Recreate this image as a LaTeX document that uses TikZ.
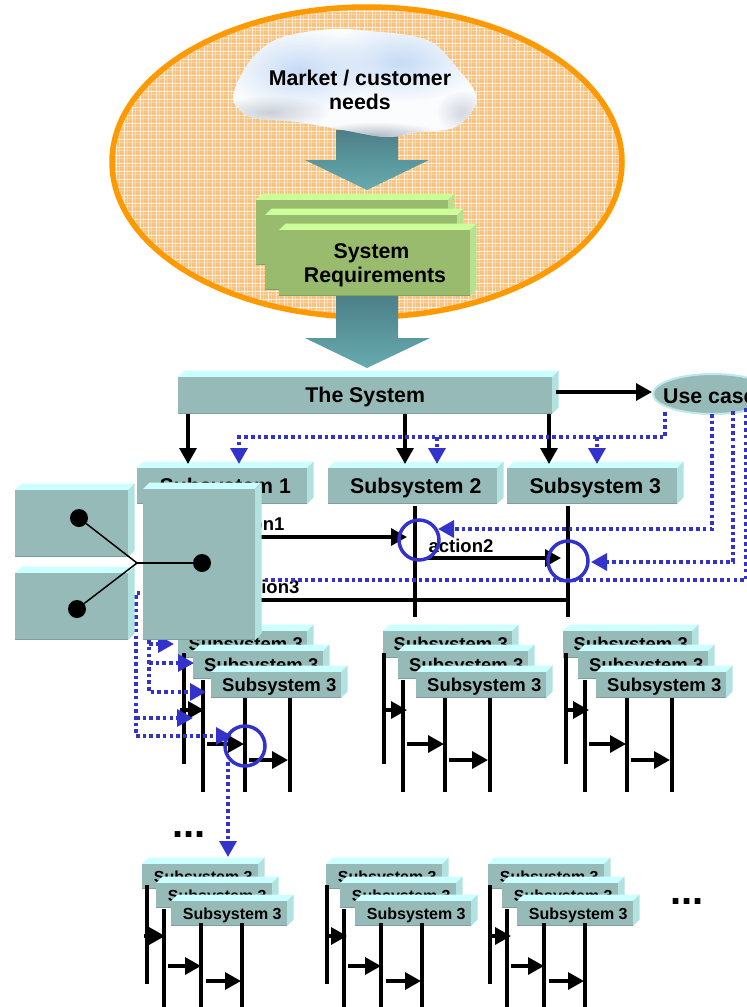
\documentclass[tikz,border=0pt]{standalone}
\usepackage{fontspec}
\setmainfont{Liberation Sans}
\usetikzlibrary{arrows.meta,shapes.geometric,fadings}
\definecolor{tfront}{HTML}{96BAB8}
\definecolor{ttop}{HTML}{CCFFFF}
\definecolor{tside}{HTML}{B2E2E0}
\definecolor{tedge}{HTML}{7E9F9E}
\definecolor{gfront}{HTML}{99BB6E}
\definecolor{gtop}{HTML}{CCFF99}
\definecolor{gside}{HTML}{B9E08F}
\definecolor{gedge}{HTML}{84A05E}
\definecolor{plaidbase}{HTML}{FBC27C}
\definecolor{ringorange}{HTML}{FF9900}
\definecolor{flowblue}{HTML}{3333CC}
\definecolor{fatdark}{HTML}{4D7F88}
\definecolor{fatlight}{HTML}{66ABAF}
\definecolor{cloudblue}{HTML}{C6DBF6}
\definecolor{cloudgrey}{HTML}{9AA3B2}
\tikzfading[name=softblob,inner color=transparent!0,outer color=transparent!100]
\tikzset{
  frontface/.style={inner sep=0pt,outer sep=0pt},
  life/.style={line width=3.3pt,black},
  call/.style={line width=3.3pt,black,-{Triangle[length=16pt,width=17pt]}},
  flow/.style={line width=3.5pt,flowblue,dash pattern=on 3.6pt off 3.1pt},
  flowtip/.style={flow,-{Triangle[length=16pt,width=17pt]}},
  ring/.style={draw=flowblue,line width=3.5pt,circle,minimum size=40pt,inner sep=0pt},
  dotnode/.style={fill=black,circle,minimum size=18pt,inner sep=0pt},
  spoke/.style={line width=1.5pt,black},
  actionlabel/.style={font=\fontsize{18.5}{20}\selectfont\bfseries,inner sep=0pt},
  fatarrow/.style={top color=fatdark,bottom color=fatlight,draw=none},
}
% [palette]{name}{x0}{y0}{x1}{y1}{font size}{text}
\newcommand\bevelbox[8][t]{%
  \fill[#1top] (#3,#4) -- ({#3+6.5},{#4-6.5}) -- ({#5+6.5},{#4-6.5}) -- (#5,#4) -- cycle;
  \fill[#1side] (#5,#4) -- ({#5+6.5},{#4-6.5}) -- ({#5+6.5},{#6-6.5}) -- (#5,#6) -- cycle;
  \node[frontface,fill=#1front,minimum width={((#5)-(#3))*1pt},minimum height={((#6)-(#4))*1pt}]
    (#2) at ({((#3)+(#5))/2},{((#4)+(#6))/2}) {};
  \draw[#1edge,line width=1.5pt] ([yshift=.75pt]#2.south west) -- ([yshift=.75pt]#2.south east);
  \node[inner sep=0pt,align=center,font={\fontsize{#7}{23.5}\selectfont\bfseries}]
    (#2-text) at ({((#3)+(#5))/2+3.25},{((#4)+(#6))/2+1.5}) {#8};
}
% {prefix}{box dx}{line dx}{arrow 1 start}{arrow 1 tip}
\newcommand\uppergroup[5]{%
  \pgfmathsetmacro\bx{#2}\pgfmathsetmacro\lx{#3}
  \bevelbox{#1a}{178+\bx}{631}{307+\bx}{658}{18.5}{Subsystem 3}
  \coordinate (#1p1) at (184+\lx,653); \coordinate (#1q1) at (184+\lx,764);
  \draw[life] (#1p1) -- (#1q1);
  \bevelbox{#1b}{193+\bx}{651}{323+\bx}{679}{18.5}{Subsystem 3}
  \coordinate (#1p2) at (203+\lx,680); \coordinate (#1q2) at (203+\lx,792);
  \draw[life] (#1p2) -- (#1q2);
  \bevelbox{#1c}{211+\bx}{672}{341+\bx}{698}{18.5}{Subsystem 3}
  \coordinate (#1p3) at (245+\lx,698); \coordinate (#1q3) at (245+\lx,792);
  \coordinate (#1p4) at (290+\lx,698); \coordinate (#1q4) at (290+\lx,792);
  \draw[life] (#1p3) -- (#1q3);
  \draw[life] (#1p4) -- (#1q4);
  \coordinate (#1s1) at (#4,710); \coordinate (#1t1) at (#5,710);
  \coordinate (#1s2) at (207+\lx,744); \coordinate (#1t2) at (244+\lx,744);
  \coordinate (#1s3) at (249+\lx,760); \coordinate (#1t3) at (288+\lx,760);
  \draw[call] (#1s1) -- (#1t1);
  \draw[call] (#1s2) -- (#1t2);
  \draw[call] (#1s3) -- (#1t3);
}
\newcommand\lowergroup[5]{%
  \pgfmathsetmacro\bx{#2}\pgfmathsetmacro\lx{#3}
  \bevelbox{#1a}{142+\bx}{864}{258+\bx}{889}{16}{Subsystem 3}
  \coordinate (#1p1) at (147+\lx,885); \coordinate (#1q1) at (147+\lx,984);
  \draw[life] (#1p1) -- (#1q1);
  \bevelbox{#1b}{156+\bx}{883}{272+\bx}{908}{16}{Subsystem 3}
  \coordinate (#1p2) at (164+\lx,909); \coordinate (#1q2) at (164+\lx,1007);
  \draw[life] (#1p2) -- (#1q2);
  \bevelbox{#1c}{171+\bx}{901}{287+\bx}{926}{16}{Subsystem 3}
  \coordinate (#1p3) at (201+\lx,923); \coordinate (#1q3) at (201+\lx,1007);
  \coordinate (#1p4) at (242+\lx,923); \coordinate (#1q4) at (242+\lx,1007);
  \draw[life] (#1p3) -- (#1q3);
  \draw[life] (#1p4) -- (#1q4);
  \coordinate (#1s1) at (#4,936); \coordinate (#1t1) at (#5,936);
  \coordinate (#1s2) at (168+\lx,966); \coordinate (#1t2) at (201+\lx,966);
  \coordinate (#1s3) at (206+\lx,981); \coordinate (#1t3) at (241+\lx,981);
  \draw[call] (#1s1) -- (#1t1);
  \draw[call] (#1s2) -- (#1t2);
  \draw[call] (#1s3) -- (#1t3);
}
\begin{document}
\begin{tikzpicture}[x=1pt,y=-1pt]
\useasboundingbox (0,0) rectangle (747,1007);
% plaid ellipse
\begin{scope}
  \clip (367,162) ellipse [x radius=255,y radius=155];
  \fill[plaidbase] (105,0) rectangle (630,325);
  \foreach \k in {0,...,66}{
    \draw[white,line width=1pt,opacity=.75] ({108+8*\k},0) -- ({108+8*\k},325);
    \draw[white,line width=1pt,opacity=.35] ({111+8*\k},0) -- ({111+8*\k},325);
  }
  \foreach \k in {0,...,41}{
    \draw[white,line width=1pt,opacity=.75] (105,{3+8*\k}) -- (630,{3+8*\k});
    \draw[white,line width=1pt,opacity=.35] (105,{6+8*\k}) -- (630,{6+8*\k});
  }
\end{scope}
\draw[ringorange,line width=5.5pt] (367,162) ellipse [x radius=255,y radius=155];
% fat arrows
\shade[fatarrow] (336,130) -- (398,130) -- (398,160) -- (429,160) -- (367,190) -- (305,160) -- (336,160) -- cycle;
\shade[fatarrow] (336,295) -- (398,295) -- (398,338) -- (430,338) -- (367,368) -- (305,338) -- (336,338) -- cycle;
% cloud
\def\cloudpath{plot[smooth cycle,tension=.6] coordinates {(233,97) (240,77) (257,53) (283,37) (333,29) (380,32) (407,35) (433,43) (453,63) (475,92) (473,110) (453,128) (420,132) (387,137) (343,130) (297,122) (253,118) (237,107)}}
\fill[white!92!cloudblue] \cloudpath;
\begin{scope}
  \clip \cloudpath;
  \fill[cloudblue,path fading=softblob] (300,70) ellipse [x radius=75,y radius=42];
  \fill[cloudblue,path fading=softblob] (400,62) ellipse [x radius=80,y radius=40];
  \fill[cloudgrey,opacity=.5,path fading=softblob] (270,112) ellipse [x radius=60,y radius=16];
  \fill[cloudgrey,opacity=.75,path fading=softblob] (375,136) ellipse [x radius=70,y radius=14];
  \fill[cloudgrey,opacity=.4,path fading=softblob] (462,112) ellipse [x radius=26,y radius=22];
\end{scope}
\node[align=center,inner sep=0pt,font=\fontsize{21.3}{23.5}\selectfont\bfseries] (market) at (360,90) {Market / customer\\needs};
% requirements stack
\bevelbox[g]{reqa}{256}{200}{448}{265}{21.3}{}
\bevelbox[g]{reqb}{265}{215}{457}{290}{21.3}{}
\bevelbox[g]{reqc}{279}{230}{470}{296}{21.3}{}
\node[inner sep=0pt,align=center,font={\fontsize{21.3}{23.5}\selectfont\bfseries}] (reqlabel) at (375,265.5) {System\hspace*{7pt}\\Requirements};
% level 1
\bevelbox{system}{178}{377}{552}{414}{21.3}{The System\hspace*{6pt}}
\node[ellipse,draw=ttop!70!tfront,line width=2pt,fill=tfront,minimum width=120pt,minimum height=40pt,inner sep=0pt] (usecase) at (713,394) {};
\node[inner sep=0pt,font=\fontsize{21.3}{24}\selectfont\bfseries,anchor=base west] (usecaselabel) at (663,403) {Use case};
\bevelbox{subone}{137}{468}{307}{504}{21.3}{Subsystem 1}
\bevelbox{subtwo}{328}{468}{497}{504}{21.3}{Subsystem 2}
\bevelbox{subthree}{507}{468}{677}{504}{21.3}{Subsystem 3}
% system arrows
\coordinate (fromsys) at (556,392);
\draw[call] (fromsys) -- (usecase.west |- fromsys);
\coordinate (sa) at (188,414); \coordinate (ta) at (188,464);
\coordinate (sb) at (405,414); \coordinate (tb) at (405,464);
\coordinate (sc) at (549,414); \coordinate (tc) at (549,464);
\draw[call] (sa) -- (ta);
\draw[call] (sb) -- (tb);
\draw[call] (sc) -- (tc);
% lifelines level 2
\coordinate (ltwoa) at (415,506); \coordinate (ltwob) at (415,617);
\coordinate (lthra) at (568,506); \coordinate (lthrb) at (568,617);
\draw[life] (ltwoa) -- (ltwob);
\draw[life] (lthra) -- (lthrb);
% actions
\node[actionlabel] (actone) at (252,524) {action1};
\node[actionlabel] (acttwo) at (461,546) {action2};
\node[actionlabel] (actthree) at (267,587) {action3};
\coordinate (aone) at (240,537); \coordinate (tone) at (407,537);
\coordinate (atwo) at (427,558); \coordinate (ttwo) at (561,558);
\coordinate (athree) at (240,600); \coordinate (tthree) at (568,600);
\draw[call] (aone) -- (tone);
\draw[call] (atwo) -- (ttwo);
\draw[life] (athree) -- (tthree);
% lower levels
\uppergroup{u}{0}{0}{180}{204}
\uppergroup{v}{205}{200}{384}{407}
\uppergroup{w}{385}{382}{566}{589}
\lowergroup{x}{0}{0}{144}{165}
\lowergroup{y}{184}{180}{327}{347}
\lowergroup{z}{346}{343}{490}{511}
% blue flows
\coordinate (fa) at (665,412); \coordinate (fb) at (665,437); \coordinate (fc) at (239,437); \coordinate (fd) at (239,464);
\coordinate (ga) at (437,437); \coordinate (gb) at (437,464);
\coordinate (ha) at (597,437); \coordinate (hb) at (597,464);
\draw[flowtip] (fa) -- (fb) -- (fc) -- (fd);
\draw[flowtip] (ga) -- (gb);
\draw[flowtip] (ha) -- (hb);
\coordinate (ia) at (712,414); \coordinate (ib) at (712,529); \coordinate (ic) at (438,529);
\draw[flowtip] (ia) -- (ib) -- (ic);
\coordinate (ja) at (733,411); \coordinate (jb) at (733,562); \coordinate (jc) at (591,562);
\draw[flowtip] (ja) -- (jb) -- (jc);
\coordinate (ka) at (746,408); \coordinate (kb) at (746,580); \coordinate (kc) at (200,580); \coordinate (kd) at (200,593); \coordinate (ke) at (136,593); \coordinate (kf) at (136,736); \coordinate (kg) at (232,736);
\draw[flowtip] (ka) -- (kb) -- (kc) -- (kd) -- (ke) -- (kf) -- (kg);
\coordinate (la) at (136,718); \coordinate (lb) at (193,718);
\draw[flowtip] (la) -- (lb);
\coordinate (ma) at (149,620); \coordinate (mb) at (149,692); \coordinate (mc) at (206,692);
\draw[flowtip] (ma) -- (mb) -- (mc);
\coordinate (na) at (149,644); \coordinate (nb) at (174,644);
\coordinate (oa) at (149,663); \coordinate (ob) at (194,663);
\draw[flowtip] (na) -- (nb);
\draw[flowtip] (oa) -- (ob);
% rings
\node[ring] (ringa) at (419,540) {};
\node[ring] (ringb) at (568,561) {};
\node[ring] (ringc) at (245,746) {};
\coordinate (pa) at (228,762);
\coordinate (pb) at (228,857);
\draw[flowtip] (pa) -- (pb);
% left boxes and large box
\bevelbox{lefta}{15}{490}{128}{557}{21}{}
\bevelbox{leftb}{15}{573}{128}{640}{21}{}
\bevelbox{bigbox}{143}{489}{255}{640}{21}{}
% dots and spokes
\node[dotnode] (dota) at (79,518) {};
\node[dotnode] (dotb) at (77,609) {};
\node[dotnode] (dotc) at (202,563) {};
\coordinate (hub) at (137,563);
\draw[spoke] (dota) -- (hub);
\draw[spoke] (dotb) -- (hub);
\draw[spoke] (hub) -- (dotc);
% ellipses
\node[inner sep=0pt,font=\fontsize{40}{40}\selectfont\bfseries,anchor=base] (morea) at (189,837) {...};
\node[inner sep=0pt,font=\fontsize{40}{40}\selectfont\bfseries,anchor=base] (moreb) at (687,904) {...};
\end{tikzpicture}
\end{document}
